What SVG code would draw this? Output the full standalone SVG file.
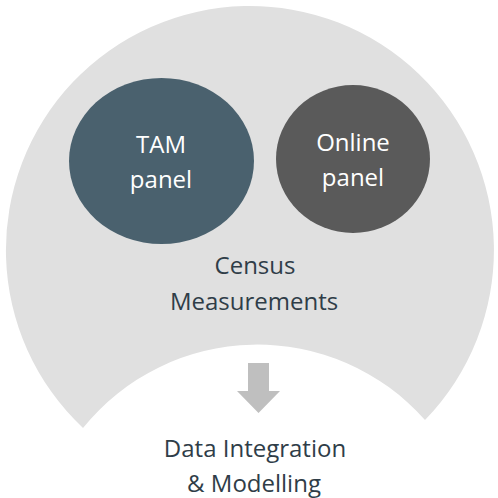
<svg xmlns="http://www.w3.org/2000/svg" width="498" height="498" viewBox="0 0 498 498">
  <style>
    .lbl { font-family: "Open Sans", "Liberation Sans", sans-serif; font-size: 24px; text-anchor: middle; }
    .light { fill: #ffffff; }
    .dark { fill: #2f3d48; }
  </style>
  <rect width="498" height="498" fill="#ffffff"/>
  <g id="census">
    <path d="M 83 428 A 244 244 0 1 1 425 420 A 224 224 0 0 0 83 428 Z" fill="#e0e0e0"/>
    <text class="lbl dark" x="255" y="274">Census</text>
    <text class="lbl dark" x="254" y="310">Measurements</text>
  </g>
  <g id="tam">
    <ellipse cx="161.5" cy="161" rx="92.5" ry="83" fill="#4a616e"/>
    <text class="lbl light" x="161" y="153">TAM</text>
    <text class="lbl light" x="161" y="188">panel</text>
  </g>
  <g id="online">
    <ellipse cx="353" cy="159" rx="77" ry="74" fill="#5a5a5a"/>
    <text class="lbl light" x="353" y="151">Online</text>
    <text class="lbl light" x="353" y="186">panel</text>
  </g>
  <g id="connectors">
    <path d="M 248 363 L 269 363 L 269 391 L 280 391 L 258.5 413 L 237 391 L 248 391 Z" fill="#bfbfbf"/>
  </g>
  <g id="integration">
    <text class="lbl dark" x="255" y="457">Data Integration</text>
    <text class="lbl dark" x="254" y="492">&amp; Modelling</text>
  </g>
</svg>
